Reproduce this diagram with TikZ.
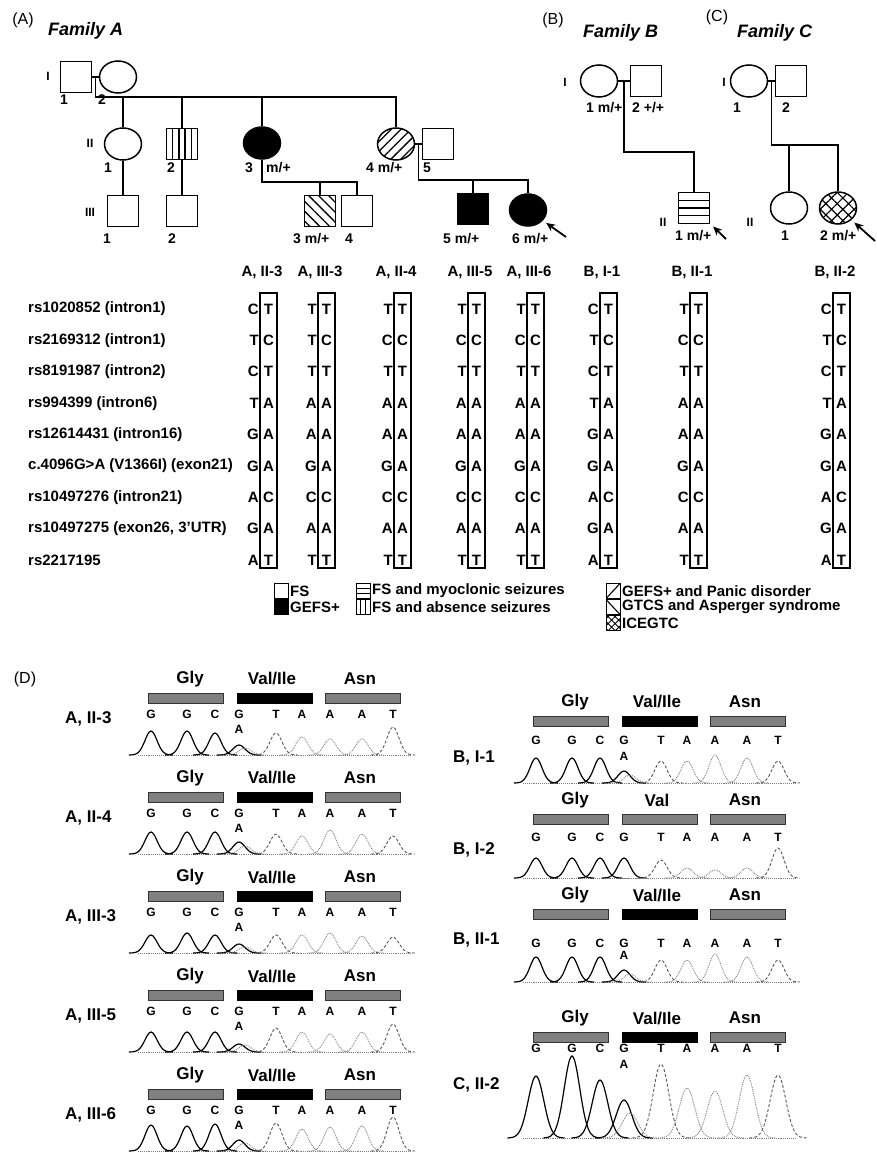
\documentclass[tikz,border=0pt]{standalone}
\usepackage{fontspec}
\setmainfont{Liberation Sans}
\usetikzlibrary{arrows.meta, positioning, shapes.geometric, calc, patterns.meta}
\newcommand{\fsz}[1]{\fontsize{#1}{#1}\selectfont}
\tikzset{
  male/.style={draw, rectangle, line width=1.5pt, minimum size=31pt, inner sep=0pt},
  female/.style={draw, ellipse, line width=1.5pt, minimum width=37pt, minimum height=32pt, inner sep=0pt},
  affected/.style={fill=black},
  pedline/.style={line width=1.5pt},
  panel/.style={font=\fsz{16}, inner sep=0pt},
  family/.style={font=\bfseries\itshape\fsz{18}, inner sep=0pt, anchor=west},
  gen/.style={font=\bfseries\fsz{12}, inner sep=0pt},
  idlbl/.style={font=\bfseries\fsz{14}, inner sep=0pt, anchor=west},
  proband/.style={-{Stealth[length=9pt,width=8pt]}, line width=1.8pt, shorten >=4pt},
  rowlbl/.style={font=\bfseries\fsz{15}, inner sep=0pt, anchor=west},
  colhead/.style={font=\bfseries\fsz{15}, inner sep=0pt},
  allele/.style={font=\bfseries\fsz{15}, inner sep=0.5pt},
  allelebox/.style={draw, line width=1.3pt, minimum width=17pt, minimum height=275pt, inner sep=0pt},
  legbox/.style={draw, line width=1pt, minimum width=14pt, minimum height=15pt, inner sep=0pt},
  legtxt/.style={font=\bfseries\fsz{15}, inner sep=0pt},
  vstripes/.style={path picture={\foreach \f in {#1} \draw[line width=1.3pt] ($(path picture bounding box.south west)!\f!(path picture bounding box.south east)$) -- ++(0,-40);}},
  vstripes/.default={0.2,0.4,0.6,0.8},
  hstripes/.style={path picture={\foreach \f in {#1} \draw[line width=1.3pt] ($(path picture bounding box.south west)!\f!(path picture bounding box.north west)$) -- ++(40,0);}},
  hstripes/.default={0.25,0.5,0.75},
  diagNE/.style={path picture={\draw[line width=1.1pt] (path picture bounding box.south west) -- (path picture bounding box.north east);}},
  diagNW/.style={path picture={\draw[line width=1.1pt] (path picture bounding box.north west) -- (path picture bounding box.south east);}},
  aa/.style={font=\bfseries\fsz{17}, inner sep=0pt},
  bar/.style={draw=black!80, fill=black!50, line width=0.8pt},
  valbar/.style={draw=black, fill=black, line width=0.8pt},
  base/.style={font=\bfseries\fsz{12}, inner sep=0pt},
  sample/.style={font=\bfseries\fsz{17}, inner sep=0pt, anchor=west},
  gpk/.style={line width=1.2pt, black},
  tpk/.style={line width=0.9pt, black!65, densely dashed},
  apk/.style={line width=0.9pt, black!50, densely dotted}
}
% codon header and bars: name, x offset, header y, middle residue, middle bar style
\newcommand{\codons}[5]{%
  \node[aa] (#1gly) at (#2+190,#3) {Gly};
  \node[aa] (#1mid) at (#2+272,#3) {#4};
  \node[aa] (#1asn) at (#2+360,#3) {Asn};
  \draw[bar] (#2+148,#3+14) rectangle (#2+223,#3+24);
  \draw[#5] (#2+237,#3+14) rectangle (#2+312,#3+24);
  \draw[bar] (#2+325,#3+14) rectangle (#2+400,#3+24);
}
% base calls: name, x offset, row y
\newcommand{\bases}[3]{%
  \foreach \b/\bx [count=\i] in {G/151,G/187,C/215,G/239,T/276,A/302,A/330,A/362,T/393}
    \node[base] (#1b\i) at (#2+\bx,#3) {\b};
}
% trace: x offset, baseline, peak heights, A peak height, peak width
\newcommand{\chrom}[5]{%
  \draw[apk] (#1+138,#2) -- (#1+410,#2);
  \foreach \px/\ps [count=\i] in {151/gpk,187/gpk,215/gpk,239/gpk,276/tpk,302/apk,330/apk,362/apk,393/tpk} {
    \pgfmathsetmacro{\ph}{{#3}[\i-1]}
    \draw[\ps] plot[domain=-2.6*#5:2.6*#5, samples=25, smooth] ({#1+\px+\x},{#2-\ph*exp(-(\x/#5)*(\x/#5))});
  }
  \draw[apk] plot[domain=-2.6*#5:2.6*#5, samples=25, smooth] ({#1+245+\x},{#2-#4*exp(-(\x/#5)*(\x/#5))});
}

\begin{document}
\begin{tikzpicture}[x=1pt, y=-1pt]
\path[fill=white, use as bounding box] (0,0) rectangle (876,1154);

% (A) family A
\node[panel] (pA) at (23,20) {(A)};
\node[family] (tA) at (48,31) {Family A};
\node[gen] (gA1) at (48,76) {I};
\node[gen] (gA2) at (90,143) {II};
\node[gen] (gA3) at (90,212) {III};

\node[male] (a11) at (76,77) {};
\node[female] (a12) at (118,77) {};
\node[female] (a21) at (123,144) {};
\node[male, vstripes] (a22) at (182,144) {};
\node[female, affected] (a23) at (262,143) {};
\node[female, pattern={Lines[angle=45,distance=7pt,line width=1.3pt]}] (a24) at (396,144) {};
\node[male] (a25) at (438,144) {};
\node[male] (a31) at (123,211) {};
\node[male] (a32) at (182,211) {};
\node[male, pattern={Lines[angle=-45,distance=7pt,line width=1.3pt]}] (a33) at (320,211) {};
\node[male] (a34) at (357,211) {};
\node[male, affected] (a35) at (473,209) {};
\node[female, affected] (a36) at (528,210) {};

\draw[pedline] (a11.east) -- (a12.west);
\coordinate (mA1) at ($(a11.east)!0.5!(a12.west)$);
\coordinate (sA1) at ($(mA1)+(0,20)$);
\draw[pedline] (mA1) -- (sA1) -| (a24.north);
\foreach \k in {a21,a22,a23} \draw[pedline] (\k.north) -- (\k.north |- sA1);
\draw[pedline] (a21.south) -- (a31.north);
\draw[pedline] (a22.south) -- (a32.north);
\coordinate (sA3) at ($(a23.south)+(0,22)$);
\draw[pedline] (a23.south) -- (sA3) -| (a34.north);
\draw[pedline] (a33.north) -- (a33.north |- sA3);
\draw[pedline] (a24.east) -- (a25.west);
\coordinate (mA2) at ($(a24.east)!0.5!(a25.west)$);
\coordinate (sA4) at ($(mA2)+(0,36)$);
\draw[pedline] (mA2) -- (sA4) -| (a36.north);
\draw[pedline] (a35.north) -- (a35.north |- sA4);

\node[idlbl] (la11) at (60,100) {1};
\node[idlbl] (la12) at (98,100) {2};
\node[idlbl] (la21) at (104,168) {1};
\node[idlbl] (la22) at (167,168) {2};
\node[idlbl] (la23) at (245,168) {3};
\node[idlbl] (la23g) at (266,168) {m/+};
\node[idlbl] (la24) at (366,168) {4 m/+};
\node[idlbl] (la25) at (423,168) {5};
\node[idlbl] (la31) at (103,239) {1};
\node[idlbl] (la32) at (168,239) {2};
\node[idlbl] (la33) at (293,239) {3 m/+};
\node[idlbl] (la34) at (345,239) {4};
\node[idlbl] (la35) at (443,239) {5 m/+};
\node[idlbl] (la36) at (512,239) {6 m/+};
\coordinate (arA) at (566,237);
\draw[proband] (arA) -- (a36);

% (B) family B
\node[panel] (pB) at (553,20) {(B)};
\node[family] (tB) at (583,33) {Family B};
\node[gen] (gB1) at (565,82) {I};
\node[gen] (gB2) at (663,222) {II};
\node[female] (b11) at (599,81) {};
\node[male] (b12) at (646,81) {};
\node[male, hstripes] (b21) at (694,208) {};
\draw[pedline] (b11.east) -- (b12.west);
\coordinate (mB) at ($(b11.east)!0.5!(b12.west)$);
\coordinate (sB) at ($(mB)+(0,71)$);
\draw[pedline] (mB) -- (sB) -| (b21.north);
\node[idlbl] (lb11) at (586,108) {1 m/+};
\node[idlbl] (lb12) at (632,108) {2 +/+};
\node[idlbl] (lb21) at (675,236) {1 m/+};
\coordinate (arB) at (726,239);
\draw[proband] (arB) -- (b21);

% (C) family C
\node[panel] (pC) at (717,17) {(C)};
\node[family] (tC) at (737,33) {Family C};
\node[gen] (gC1) at (724,82) {I};
\node[gen] (gC2) at (750,222) {II};
\node[female] (c11) at (749,81) {};
\node[male] (c12) at (791,81) {};
\node[female] (c21) at (789,208) {};
\node[female, pattern={Hatch[angle=45,distance=8pt,line width=1.2pt]}] (c22) at (838,208) {};
\draw[pedline] (c11.east) -- (c12.west);
\coordinate (mC) at ($(c11.east)!0.5!(c12.west)$);
\coordinate (sC) at ($(mC)+(0,64)$);
\draw[pedline] (mC) -- (sC) -| (c22.north);
\draw[pedline] (c21.north) -- (c21.north |- sC);
\node[idlbl] (lc11) at (733,108) {1};
\node[idlbl] (lc12) at (782,108) {2};
\node[idlbl] (lc21) at (781,236) {1};
\node[idlbl] (lc22) at (820,236) {2 m/+};
\coordinate (arC) at (875,241);
\draw[proband] (arC) -- (c22);

% haplotypes
\foreach \txt [count=\r] in {{rs1020852 (intron1)}, {rs2169312 (intron1)}, {rs8191987 (intron2)},
    {rs994399 (intron6)}, {rs12614431 (intron16)}, {c.4096G>A (V1366I) (exon21)},
    {rs10497276 (intron21)}, {rs10497275 (exon26, 3'UTR)}, {rs2217195}}
  \node[rowlbl] (row\r) at (28,{277.6+31.4*\r}) {\txt};

\foreach \cx/\cname/\lefts [count=\c] in {260/{A, II-3}/{C,T,C,T,G,G,A,G,A},
    318/{A, III-3}/{T,T,T,A,A,G,C,A,T}, 394/{A, II-4}/{T,C,T,A,A,G,C,A,T},
    468/{A, III-5}/{T,C,T,A,A,G,C,A,T}, 527/{A, III-6}/{T,C,T,A,A,G,C,A,T},
    600/{B, I-1}/{C,T,C,T,G,G,A,G,A}, 690/{B, II-1}/{T,C,T,A,A,G,C,A,T},
    833/{B, II-2}/{C,T,C,T,G,G,A,G,A}} {
  \node[colhead] (col\c) at (\cx+2,272) {\cname};
  \node[allelebox] (box\c) at (\cx+8.5,430.5) {};
  \foreach \l [count=\r] in \lefts
    \node[allele, anchor=east] (p\c-\r) at (\cx-0.5,{277.6+31.4*\r}) {\l};
  \foreach \l [count=\r] in {T,C,T,A,A,A,C,A,T}
    \node[allele] (m\c-\r) at (\cx+8.5,{277.6+31.4*\r}) {\l};
}

% legend
\node[legbox] (lgFS) at (281,591) {};
\node[legtxt, right=1.5pt of lgFS] (ltFS) {FS};
\node[legbox, fill=black] (lgGE) at (281,607) {};
\node[legtxt, right=1.5pt of lgGE] (ltGE) {GEFS+};
\node[legbox, hstripes={0.333,0.667}] (lgMY) at (363,591) {};
\node[legtxt, right=1.5pt of lgMY] (ltMY) {FS and myoclonic seizures};
\node[legbox, vstripes={0.333,0.667}] (lgAB) at (363,607) {};
\node[legtxt, right=1.5pt of lgAB] (ltAB) {FS and absence seizures};
\node[legbox, diagNE] (lgPA) at (613,591) {};
\node[legtxt, right=1.5pt of lgPA] (ltPA) {GEFS+ and Panic disorder};
\node[legbox, diagNW] (lgGT) at (613,607) {};
\node[legtxt, right=1.5pt of lgGT] (ltGT) {GTCS and Asperger syndrome};
\node[legbox, pattern={Hatch[angle=45,distance=5pt,line width=0.9pt]}] (lgIC) at (613,623) {};
\node[legtxt, right=1.5pt of lgIC] (ltIC) {ICEGTC};

% (D) sequencing traces
\node[panel] (pD) at (25,679) {(D)};
\codons{s1}{0}{679}{Val/Ile}{valbar}
\bases{s1}{0}{714}
\node[base] (s1alt) at (239,729) {A};
\chrom{0}{755}{24,24,22,10,22,18,16,16,28}{7}{8.5}
\node[sample] (s1lbl) at (65,719) {A, II-3};

\codons{s2}{0}{778}{Val/Ile}{valbar}
\bases{s2}{0}{813}
\node[base] (s2alt) at (239,828) {A};
\chrom{0}{854}{22,22,22,12,20,18,24,20,18}{8}{8.5}
\node[sample] (s2lbl) at (65,818) {A, II-4};

\codons{s3}{0}{877}{Val/Ile}{valbar}
\bases{s3}{0}{912}
\node[base] (s3alt) at (239,927) {A};
\chrom{0}{953}{18,20,18,9,18,18,20,17,16}{6}{8.5}
\node[sample] (s3lbl) at (65,917) {A, III-3};

\codons{s4}{0}{976}{Val/Ile}{valbar}
\bases{s4}{0}{1011}
\node[base] (s4alt) at (239,1026) {A};
\chrom{0}{1052}{20,20,20,8,24,20,18,20,28}{7}{8.5}
\node[sample] (s4lbl) at (65,1016) {A, III-5};

\codons{s5}{0}{1075}{Val/Ile}{valbar}
\bases{s5}{0}{1110}
\node[base] (s5alt) at (239,1125) {A};
\chrom{0}{1151}{26,25,27,11,28,22,24,25,34}{8}{8.5}
\node[sample] (s5lbl) at (65,1115) {A, III-6};

\codons{r1}{385}{702}{Val/Ile}{valbar}
\bases{r1}{385}{740}
\node[base] (r1alt) at (624,756) {A};
\chrom{385}{783}{25,25,25,12,22,22,28,25,22}{8}{8.5}
\node[sample] (r1lbl) at (453,758) {B, I-1};

\codons{r2}{385}{800}{Val}{bar}
\bases{r2}{385}{837}
\chrom{385}{878}{20,20,20,20,18,10,8,10,30}{0}{8.5}
\node[sample] (r2lbl) at (453,850) {B, I-2};

\codons{r3}{385}{895}{Val/Ile}{valbar}
\bases{r3}{385}{943}
\node[base] (r3alt) at (624,955) {A};
\chrom{385}{982}{25,25,25,12,22,22,28,25,22}{8}{8.5}
\node[sample] (r3lbl) at (453,940) {B, II-1};

\codons{r4}{385}{1018}{Val/Ile}{valbar}
\bases{r4}{385}{1048}
\node[base] (r4alt) at (624,1064) {A};
\chrom{385}{1138}{62,82,58,38,74,50,47,63,63}{25}{11}
\node[sample] (r4lbl) at (453,1085) {C, II-2};

\end{tikzpicture}
\end{document}
